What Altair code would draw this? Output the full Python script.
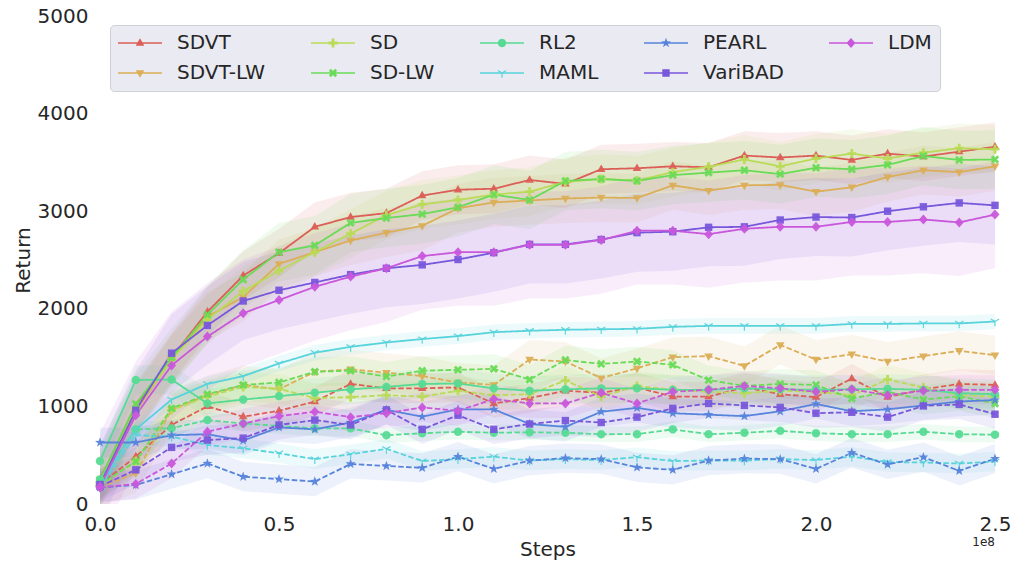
import math
import altair as alt
import pandas as pd

# ---------------- data ----------------
steps = [i * 10_000_000 for i in range(26)]

# legend is filled column by column (2 rows x 5 columns)
methods = ["SDVT", "SDVT-LW", "SD", "SD-LW", "RL2", "MAML", "PEARL", "VariBAD", "LDM"]

sdvt_solid = [250, 1000, 1500, 1970, 2340, 2570, 2840, 2940, 2980, 3160, 3220, 3230, 3320, 3280, 3430, 3440, 3460, 3450, 3570, 3550, 3570, 3525, 3590, 3560, 3610, 3660]
sdvt_dashed = [200, 485, 810, 1000, 895, 955, 1050, 1230, 1185, 1185, 1195, 1030, 1085, 1160, 1140, 1195, 1100, 1100, 1195, 1125, 1095, 1285, 1095, 1175, 1230, 1220]
sdvtlw_solid = [200, 950, 1480, 1920, 2120, 2460, 2580, 2700, 2780, 2850, 3030, 3090, 3110, 3130, 3140, 3135, 3265, 3210, 3265, 3270, 3200, 3245, 3350, 3420, 3400, 3460]
sdvtlw_dashed = [170, 315, 965, 1115, 1220, 1175, 1355, 1380, 1345, 1310, 1245, 1220, 1480, 1460, 1290, 1390, 1505, 1515, 1415, 1630, 1480, 1535, 1460, 1515, 1570, 1525]
sd_solid = [220, 980, 1480, 1890, 2180, 2390, 2580, 2770, 2960, 3070, 3115, 3170, 3200, 3300, 3330, 3315, 3400, 3455, 3530, 3460, 3540, 3590, 3540, 3600, 3645, 3635]
sd_dashed = [190, 440, 960, 1100, 1200, 1180, 1085, 1095, 1115, 1100, 1160, 1115, 1125, 1265, 1100, 1210, 1170, 1150, 1135, 1160, 1150, 1115, 1275, 1195, 1115, 1100]
sdlw_solid = [250, 1025, 1500, 1940, 2300, 2580, 2650, 2880, 2930, 2970, 3040, 3170, 3115, 3310, 3330, 3310, 3370, 3395, 3420, 3380, 3445, 3430, 3475, 3565, 3525, 3530]
sdlw_dashed = [200, 435, 980, 1125, 1220, 1245, 1355, 1365, 1305, 1365, 1375, 1385, 1275, 1475, 1435, 1460, 1425, 1270, 1210, 1230, 1220, 1080, 1150, 1070, 1105, 1030]
rl2_solid = [440, 1270, 1275, 1030, 1070, 1105, 1140, 1175, 1200, 1230, 1235, 1185, 1160, 1175, 1185, 1185, 1170, 1170, 1185, 1175, 1170, 1175, 1180, 1170, 1135, 1125]
rl2_dashed = [250, 765, 775, 860, 825, 800, 775, 775, 705, 725, 740, 730, 735, 730, 715, 715, 765, 715, 730, 750, 725, 715, 715, 740, 715, 710]
maml_solid = [200, 765, 1070, 1230, 1310, 1440, 1550, 1610, 1655, 1690, 1720, 1760, 1775, 1785, 1790, 1795, 1815, 1825, 1825, 1825, 1825, 1845, 1845, 1850, 1850, 1870]
maml_dashed = [170, 705, 690, 605, 570, 520, 460, 510, 565, 440, 460, 485, 445, 460, 450, 480, 440, 445, 445, 460, 450, 485, 430, 425, 415, 435]
pearl_solid = [630, 630, 705, 715, 650, 785, 765, 835, 965, 895, 970, 970, 820, 790, 945, 985, 930, 915, 900, 950, 1025, 950, 970, 1010, 1050, 1065]
pearl_dashed = [170, 195, 305, 415, 280, 255, 230, 410, 390, 370, 485, 360, 445, 470, 460, 375, 350, 445, 465, 460, 360, 525, 405, 480, 340, 465]
varibad_solid = [200, 960, 1545, 1830, 2080, 2190, 2270, 2350, 2415, 2450, 2505, 2575, 2660, 2660, 2710, 2780, 2790, 2835, 2840, 2910, 2940, 2935, 3000, 3045, 3085, 3060]
varibad_dashed = [180, 350, 580, 655, 675, 810, 860, 810, 965, 765, 910, 765, 820, 855, 835, 890, 980, 1030, 1010, 990, 930, 940, 890, 1005, 1020, 920]
ldm_solid = [180, 910, 1420, 1715, 1955, 2090, 2225, 2330, 2415, 2540, 2580, 2580, 2655, 2655, 2705, 2800, 2800, 2765, 2820, 2840, 2840, 2890, 2890, 2915, 2885, 2965]
ldm_dashed = [170, 205, 415, 740, 825, 900, 945, 890, 930, 990, 955, 1075, 1030, 1030, 1140, 1030, 1150, 1170, 1210, 1185, 1150, 1175, 1115, 1160, 1170, 1170]

# approximate half-width of the shaded band (solid, dashed)
spread = {
    "SDVT": (250, 150), "SDVT-LW": (250, 200), "SD": (250, 150), "SD-LW": (300, 150),
    "RL2": (150, 80), "MAML": (80, 100), "PEARL": (150, 150), "VariBAD": (400, 150),
    "LDM": (550, 150),
}

series = {
    "SDVT": (sdvt_solid, sdvt_dashed), "SDVT-LW": (sdvtlw_solid, sdvtlw_dashed),
    "SD": (sd_solid, sd_dashed), "SD-LW": (sdlw_solid, sdlw_dashed),
    "RL2": (rl2_solid, rl2_dashed), "MAML": (maml_solid, maml_dashed),
    "PEARL": (pearl_solid, pearl_dashed), "VariBAD": (varibad_solid, varibad_dashed),
    "LDM": (ldm_solid, ldm_dashed),
}

colors = {
    "SDVT": "#db5f57", "SDVT-LW": "#dbae57", "SD": "#b9db57", "SD-LW": "#69db57",
    "RL2": "#57db94", "MAML": "#57d3db", "PEARL": "#5784db", "VariBAD": "#7957db",
    "LDM": "#c957db",
}

# ---------------- marker shapes (unit = 10 px at size 400) ----------------
def area(poly):
    s = 0.0
    for i in range(len(poly)):
        x1, y1 = poly[i]
        x2, y2 = poly[(i + 1) % len(poly)]
        s += x1 * y2 - x2 * y1
    return s

def path(polys):
    out = []
    for p in polys:
        if area(p) < 0:
            p = list(reversed(p))
        out.append("M" + "L".join(f"{x:.3f},{y:.3f}" for x, y in p) + "Z")
    return "".join(out)

def rot(poly, ang):
    c, s = math.cos(ang), math.sin(ang)
    return [(x * c - y * s, x * s + y * c) for x, y in poly]

plus = [(-0.14, -0.45), (0.14, -0.45), (0.14, -0.14), (0.45, -0.14), (0.45, 0.14), (0.14, 0.14),
        (0.14, 0.45), (-0.14, 0.45), (-0.14, 0.14), (-0.45, 0.14), (-0.45, -0.14), (-0.14, -0.14)]
arm = [(0, -0.06), (0.48, -0.06), (0.48, 0.06), (0, 0.06)]
star = []
for k in range(10):
    r = 0.52 if k % 2 == 0 else 0.21
    a = -math.pi / 2 + k * math.pi / 5
    star.append((r * math.cos(a), r * math.sin(a)))

marker_polys = {
    "SDVT": [[(0, -0.48), (0.43, 0.27), (-0.43, 0.27)]],
    "SDVT-LW": [[(0, 0.48), (-0.43, -0.27), (0.43, -0.27)]],
    "SD": [plus],
    "SD-LW": [rot(plus, math.pi / 4)],
    "RL2": [[(0.42 * math.cos(2 * math.pi * k / 24), 0.42 * math.sin(2 * math.pi * k / 24)) for k in range(24)]],
    "MAML": [rot(arm, math.radians(a)) for a in (90, 210, 330)],
    "PEARL": [star],
    "VariBAD": [[(-0.37, -0.37), (0.37, -0.37), (0.37, 0.37), (-0.37, 0.37)]],
    "LDM": [[(0, -0.5), (0.45, 0), (0, 0.5), (-0.45, 0)]],
}
legend_line = [(-2.2, -0.075), (2.2, -0.075), (2.2, 0.075), (-2.2, 0.075)]

plot_shapes = [path(marker_polys[m]) for m in methods]
legend_shapes = [path([legend_line] + marker_polys[m]) for m in methods]
color_range = [colors[m] for m in methods]

# ---------------- table ----------------
rows = []
for m in methods:
    for kind, vals, sp in (("solid", series[m][0], spread[m][0]), ("dashed", series[m][1], spread[m][1])):
        for s, v in zip(steps, vals):
            rows.append({"Method": m, "Kind": kind, "Step": s, "Return": v,
                         "lo": v - sp, "hi": v + sp})
df = pd.DataFrame(rows)

FONT = "DejaVu Sans"
TXT = "#262626"

xscale = alt.Scale(domain=[0, 250_000_000], nice=False, zero=False)
yscale = alt.Scale(domain=[0, 5000], nice=False)
xaxis = alt.Axis(values=[0, 50_000_000, 100_000_000, 150_000_000, 200_000_000, 250_000_000],
                 labelExpr="format(datum.value / 1e8, '.1f')", title="Steps",
                 labelPadding=10, titlePadding=5, labelFlush=False, labelOverlap=False)
yaxis = alt.Axis(values=[0, 1000, 2000, 3000, 4000, 5000], format="d", title="Return",
                 labelPadding=12, titlePadding=4)

color_nolegend = alt.Color("Method:N", scale=alt.Scale(domain=methods, range=color_range), legend=None)

base = alt.Chart(df)

bands = base.mark_area(opacity=0.11, clip=True).encode(
    x=alt.X("Step:Q", scale=xscale, axis=xaxis),
    y=alt.Y("lo:Q", scale=yscale, axis=yaxis),
    y2="hi:Q",
    color=color_nolegend,
    detail="Kind:N",
)

lines = base.mark_line(strokeWidth=1.8, clip=True).encode(
    x=alt.X("Step:Q", scale=xscale, axis=xaxis),
    y=alt.Y("Return:Q", scale=yscale, axis=yaxis),
    color=color_nolegend,
    strokeDash=alt.StrokeDash("Kind:N", scale=alt.Scale(domain=["solid", "dashed"],
                                                         range=[[1, 0], [5.5, 2.4]]), legend=None),
)

points = base.mark_point(filled=True, size=400, opacity=0.95, strokeWidth=0).encode(
    x=alt.X("Step:Q", scale=xscale, axis=xaxis),
    y=alt.Y("Return:Q", scale=yscale, axis=yaxis),
    color=color_nolegend,
    shape=alt.Shape("Method:N", scale=alt.Scale(domain=methods, range=plot_shapes), legend=None),
)

leg = alt.Legend(title=None, orient="none", legendX=10, legendY=9, columns=5,
                 symbolSize=400, symbolStrokeWidth=0, symbolOpacity=1,
                 symbolOffset=12, labelOffset=27, labelFont=FONT, labelFontSize=20,
                 labelColor=TXT, labelLimit=400, rowPadding=10, columnPadding=45,
                 padding=8, fillColor="#eaeaf2", strokeColor="#cfcfd6", cornerRadius=4)

legend_layer = base.mark_point(filled=True, size=400, opacity=1).encode(
    color=alt.Color("Method:N", scale=alt.Scale(domain=methods, range=color_range), legend=leg),
    shape=alt.Shape("Method:N", scale=alt.Scale(domain=methods, range=legend_shapes), legend=leg),
).transform_filter("false")

offset_text = alt.Chart(pd.DataFrame({"t": ["1e8"]})).mark_text(
    align="right", baseline="top", font=FONT, fontSize=12, color=TXT
).encode(x=alt.datum(250_000_000), y=alt.value(521), text="t:N")

chart = alt.layer(bands, lines, points, legend_layer, offset_text).resolve_scale(
    color="independent", shape="independent"
).properties(
    width=895, height=488,
    autosize=alt.AutoSizeParams(type="none"),
    padding={"left": 100, "top": 16, "right": 19, "bottom": 59},
).configure_view(
    fill="#eaeaf2", stroke="transparent"
).configure_axis(
    grid=True, gridColor="white", gridWidth=1.5, domain=False, ticks=False, tickSize=0,
    labelFont=FONT, labelFontSize=20, labelColor=TXT,
    titleFont=FONT, titleFontSize=20, titleFontWeight="normal", titleColor=TXT,
)

chart.save("out.html", embed_options={"renderer": "svg", "actions": False})
